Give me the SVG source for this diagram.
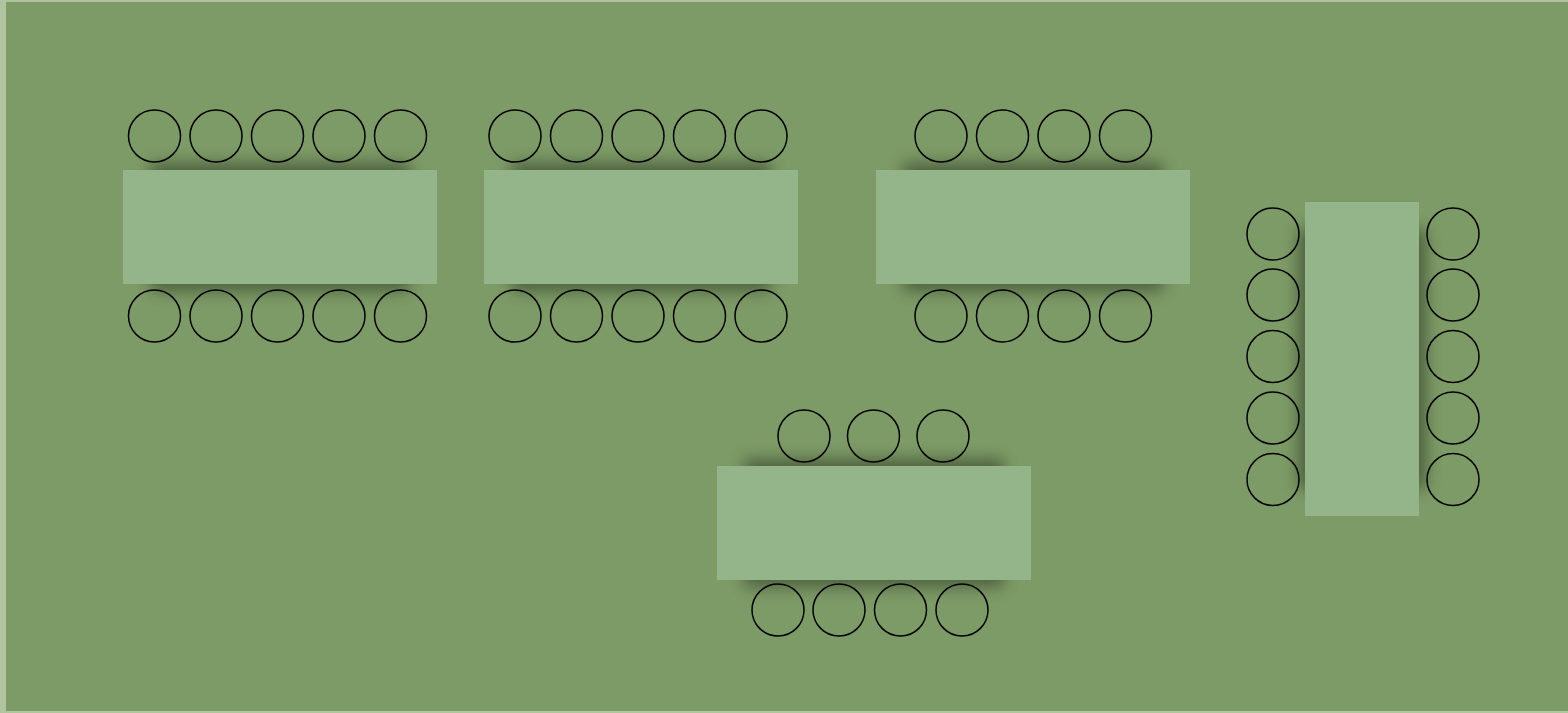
<svg xmlns="http://www.w3.org/2000/svg" width="1568" height="713" viewBox="0 0 1568 713">
<defs>
<style>
.chair{fill:none;stroke:#000;stroke-width:1.5}
.table{fill:#94b489}
.shadow{fill:#000;opacity:0.38;filter:url(#blur)}
</style>
<filter id="blur" x="-30%" y="-30%" width="160%" height="160%"><feGaussianBlur stdDeviation="8"/></filter>
</defs>
<rect x="0" y="0" width="1568" height="713" fill="#b0c4a0"/>
<rect x="6" y="2" width="1562" height="709" fill="#7d9b66"/>
<g id="table1">
<rect class="shadow" x="150" y="163" width="260" height="128"/>
<rect class="table" x="123" y="170" width="314" height="114"/>
<circle class="chair" cx="154.5" cy="136" r="26"/><circle class="chair" cx="216" cy="136" r="26"/><circle class="chair" cx="277.5" cy="136" r="26"/><circle class="chair" cx="339" cy="136" r="26"/><circle class="chair" cx="400.5" cy="136" r="26"/>
<circle class="chair" cx="154.5" cy="316" r="26"/><circle class="chair" cx="216" cy="316" r="26"/><circle class="chair" cx="277.5" cy="316" r="26"/><circle class="chair" cx="339" cy="316" r="26"/><circle class="chair" cx="400.5" cy="316" r="26"/>
</g>
<g id="table2">
<rect class="shadow" x="511" y="163" width="260" height="128"/>
<rect class="table" x="484" y="170" width="314" height="114"/>
<circle class="chair" cx="515" cy="136" r="26"/><circle class="chair" cx="576.5" cy="136" r="26"/><circle class="chair" cx="638" cy="136" r="26"/><circle class="chair" cx="699.5" cy="136" r="26"/><circle class="chair" cx="761" cy="136" r="26"/>
<circle class="chair" cx="515" cy="316" r="26"/><circle class="chair" cx="576.5" cy="316" r="26"/><circle class="chair" cx="638" cy="316" r="26"/><circle class="chair" cx="699.5" cy="316" r="26"/><circle class="chair" cx="761" cy="316" r="26"/>
</g>
<g id="table3">
<rect class="shadow" x="903" y="163" width="260" height="128"/>
<rect class="table" x="876" y="170" width="314" height="114"/>
<circle class="chair" cx="941" cy="136" r="26"/><circle class="chair" cx="1002.5" cy="136" r="26"/><circle class="chair" cx="1064" cy="136" r="26"/><circle class="chair" cx="1125.5" cy="136" r="26"/>
<circle class="chair" cx="941" cy="316" r="26"/><circle class="chair" cx="1002.5" cy="316" r="26"/><circle class="chair" cx="1064" cy="316" r="26"/><circle class="chair" cx="1125.5" cy="316" r="26"/>
</g>
<g id="table4">
<rect class="shadow" x="1298" y="229" width="128" height="260"/>
<rect class="table" x="1305" y="202" width="114" height="314"/>
<circle class="chair" cx="1273" cy="234" r="26"/><circle class="chair" cx="1273" cy="295" r="26"/><circle class="chair" cx="1273" cy="356.5" r="26"/><circle class="chair" cx="1273" cy="418" r="26"/><circle class="chair" cx="1273" cy="479.5" r="26"/>
<circle class="chair" cx="1453" cy="234" r="26"/><circle class="chair" cx="1453" cy="295" r="26"/><circle class="chair" cx="1453" cy="356.5" r="26"/><circle class="chair" cx="1453" cy="418" r="26"/><circle class="chair" cx="1453" cy="479.5" r="26"/>
</g>
<g id="table5">
<rect class="shadow" x="744" y="459" width="260" height="128"/>
<rect class="table" x="717" y="466" width="314" height="114"/>
<circle class="chair" cx="804" cy="436" r="26"/><circle class="chair" cx="873.5" cy="436" r="26"/><circle class="chair" cx="943" cy="436" r="26"/>
<circle class="chair" cx="778" cy="610" r="26"/><circle class="chair" cx="839" cy="610" r="26"/><circle class="chair" cx="900.5" cy="610" r="26"/><circle class="chair" cx="962" cy="610" r="26"/>
</g>
<g id="connectors"></g>
</svg>
